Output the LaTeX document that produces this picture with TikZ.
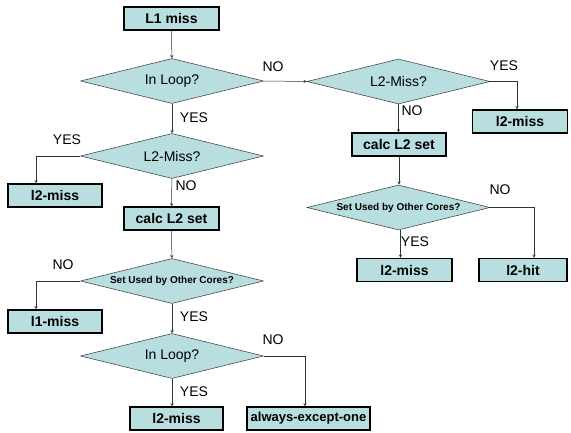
\documentclass[tikz,border=0pt]{standalone}
\usepackage{fontspec}
\setmainfont{Liberation Sans}
\usetikzlibrary{arrows,shapes.geometric}

\definecolor{boxfill}{RGB}{184,222,224}

\begin{document}
\begin{tikzpicture}[x=1pt,y=-1pt,
        stepbox/.style={draw=black,line width=1.1pt,fill=boxfill,minimum height=23pt,inner sep=0pt,font=\fontsize{14}{14}\selectfont\bfseries},
        ask/.style={diamond,aspect=4,draw=black!80,line width=0.5pt,fill=boxfill,minimum width=183pt,minimum height=45pt,inner sep=0pt,font=\fontsize{14}{14}\selectfont},
        smallask/.style={ask,font=\fontsize{10}{10}\selectfont\bfseries},
        lbl/.style={font=\fontsize{14}{14}\selectfont,inner sep=0pt},
        link/.style={-stealth,draw=black!80,line width=0.5pt}]
        \useasboundingbox (0,0) rectangle (571,433);
        % left column
        \node[stepbox,minimum width=95pt] (l1miss) at (171.5,18.5) {L1 miss};
        \node[ask] (loopa) at (172,81) {In Loop?};
        \node[ask] (missa) at (172,156) {L2-Miss?};
        \node[stepbox,minimum width=94pt] (outa) at (55,195.5) {l2-miss};
        \node[stepbox,minimum width=95pt] (calca) at (171.5,218.5) {calc L2 set};
        \node[smallask] (seta) at (172,281) {Set Used by Other Cores?};
        \node[stepbox,minimum width=94pt] (outb) at (55,321.5) {l1-miss};
        \node[ask] (loopb) at (172,356) {In Loop?};
        \node[stepbox,minimum width=93pt] (outc) at (176.5,418.5) {l2-miss};
        \node[stepbox,minimum width=123pt,font=\fontsize{13}{13}\selectfont\bfseries] (outd) at (308.5,418.5) {always-except-one};
        % right column
        \node[ask] (missb) at (398.5,81.5) {L2-Miss?};
        \node[stepbox,minimum width=95pt] (oute) at (520,121.5) {l2-miss};
        \node[stepbox,minimum width=94pt] (calcb) at (399,144.5) {calc L2 set};
        \node[smallask] (setb) at (398.5,207.5) {Set Used by Other Cores?};
        \node[stepbox,minimum width=95pt] (outf) at (404.5,270) {l2-miss};
        \node[stepbox,minimum width=88pt] (outg) at (523,270) {l2-hit};

        \draw[link] (l1miss) -- (loopa);
        \draw[link] (loopa) -- (missa);
        \draw[link] (loopa.east) -- (missb.west);
        \draw[link] (missa.west) -| ([xshift=-19pt]outa.north);
        \draw[link] (missa) -- (calca);
        \draw[link] (calca) -- (seta);
        \draw[link] (seta.west) -| ([xshift=-19pt]outb.north);
        \draw[link] (seta) -- (loopb);
        \draw[link] (loopb.south) -- (loopb.south |- outc.north);
        \draw[link] (loopb.east) -| ([xshift=-3.5pt]outd.north);
        \draw[link] (missb.east) -| ([xshift=-3pt]oute.north);
        \draw[link] (missb.south) -- (missb.south |- calcb.north);
        \draw[link] (calcb.south) -- (calcb.south |- setb.north);
        \draw[link] (setb.east) -| ([xshift=11pt]outg.north);
        \draw[link] ([xshift=2pt]setb.south) -- ([xshift=2pt]setb.south |- outf.north);

        % answers
        \node[lbl] (ya) at (194,118) {YES};
        \node[lbl] (na) at (273,67) {NO};
        \node[lbl] (yb) at (67,140) {YES};
        \node[lbl] (nb) at (186,186) {NO};
        \node[lbl] (nc) at (63,265) {NO};
        \node[lbl] (yc) at (194,317) {YES};
        \node[lbl] (nd) at (273,340) {NO};
        \node[lbl] (yd) at (194,392) {YES};
        \node[lbl] (ye) at (504,66) {YES};
        \node[lbl] (ne) at (412,111) {NO};
        \node[lbl] (nf) at (500,190) {NO};
        \node[lbl] (yf) at (415,242) {YES};
\end{tikzpicture}
\end{document}
